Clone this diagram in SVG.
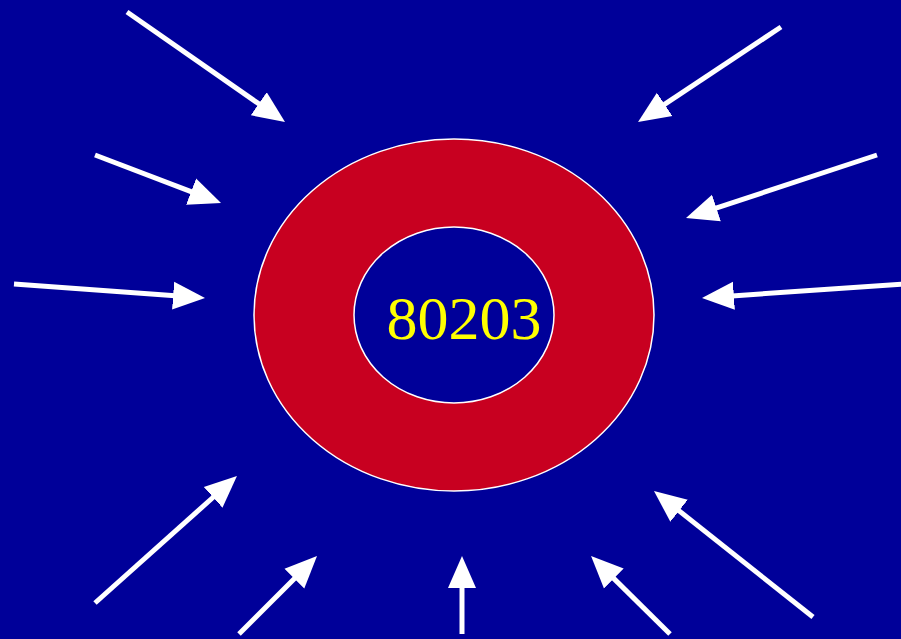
<svg xmlns="http://www.w3.org/2000/svg" width="901" height="639" viewBox="0 0 901 639">
<style>
.arr{stroke:#fff;stroke-width:5;fill:none;marker-end:url(#ah)}
.ring{fill:#C80020;stroke:#fff;stroke-width:1.5}
.hole{fill:#000099;stroke:#fff;stroke-width:1.5}
.lbl{font-family:"Liberation Serif","Times New Roman",serif;font-size:62px;fill:#FFFF00;text-anchor:middle}
</style>
<defs>
<marker id="ah" markerUnits="userSpaceOnUse" markerWidth="34" markerHeight="30" viewBox="0 -15 34 30" refX="2" refY="0" orient="auto">
<path d="M0,-14 L32,0 L0,14 Z" fill="#fff"/>
</marker>
</defs>
<rect width="901" height="639" fill="#000099"/>
<g id="center">
<ellipse class="ring" cx="454" cy="315" rx="200" ry="176"/>
<ellipse class="hole" cx="454" cy="315" rx="100" ry="88"/>
<text class="lbl" x="464" y="339">80203</text>
</g>
<g id="connectors">
<line class="arr" x1="127" y1="12" x2="260.4" y2="104.9"/>
<line class="arr" x1="781" y1="27" x2="663" y2="105.4"/>
<line class="arr" x1="95" y1="155" x2="193" y2="192.3"/>
<line class="arr" x1="877" y1="155" x2="714.5" y2="208.6"/>
<line class="arr" x1="14" y1="284" x2="175.1" y2="295.8"/>
<line class="arr" x1="903" y1="284" x2="731.9" y2="295.9"/>
<line class="arr" x1="95" y1="603" x2="214.6" y2="496"/>
<line class="arr" x1="239" y1="634" x2="295.8" y2="577.2"/>
<line class="arr" x1="462" y1="634" x2="462" y2="586"/>
<line class="arr" x1="670" y1="634" x2="612.4" y2="577.1"/>
<line class="arr" x1="813" y1="617" x2="677.5" y2="509.6"/>
</g>
</svg>
